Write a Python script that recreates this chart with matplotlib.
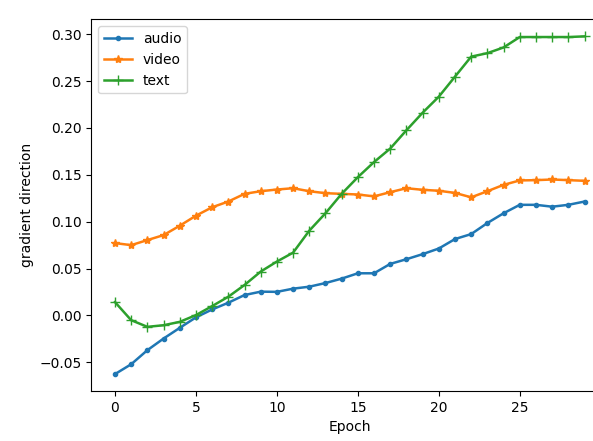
import matplotlib
matplotlib.use("Agg")
import matplotlib.pyplot as plt

epochs = list(range(30))

audio = [-0.0625, -0.052, -0.037, -0.0246, -0.0132, -0.002, 0.0064, 0.0136, 0.0218, 0.0254,
         0.0252, 0.0286, 0.0307, 0.0346, 0.0393, 0.045, 0.045, 0.055, 0.060, 0.0654,
         0.0714, 0.0815, 0.0868, 0.0986, 0.109, 0.118, 0.118, 0.116, 0.118, 0.1215]

video = [0.0772, 0.075, 0.0804, 0.0857, 0.0957, 0.1064, 0.1154, 0.1215, 0.1297, 0.1325,
         0.1343, 0.1357, 0.1325, 0.1304, 0.1297, 0.129, 0.127, 0.1315, 0.1357, 0.134,
         0.133, 0.1307, 0.126, 0.1325, 0.1393, 0.144, 0.1443, 0.145, 0.1443, 0.1436]

text = [0.0143, -0.005, -0.0121, -0.0104, -0.0068, 0.0004, 0.010, 0.020, 0.0325, 0.0468,
        0.0575, 0.067, 0.0904, 0.109, 0.1297, 0.1475, 0.1636, 0.178, 0.1975, 0.2162,
        0.2333, 0.2547, 0.276, 0.2797, 0.2858, 0.2969, 0.2969, 0.2969, 0.2969, 0.2976]

fig = plt.figure(figsize=(5.93, 4.41), dpi=100)
# axes run a little past the right edge of the canvas
ax = fig.add_axes([0.1543, 0.1134, 0.871, 0.8424])

ax.plot(epochs, audio, marker='.', label='audio', linewidth=1.8)
ax.plot(epochs, video, marker='*', label='video', linewidth=1.8)
ax.plot(epochs, text, marker='+', label='text', linewidth=1.8, markersize=7)

ax.set_xlabel('Epoch')
ax.set_ylabel('gradient direction')
ax.legend(loc='upper left')

fig.savefig('out.png', dpi=100)
